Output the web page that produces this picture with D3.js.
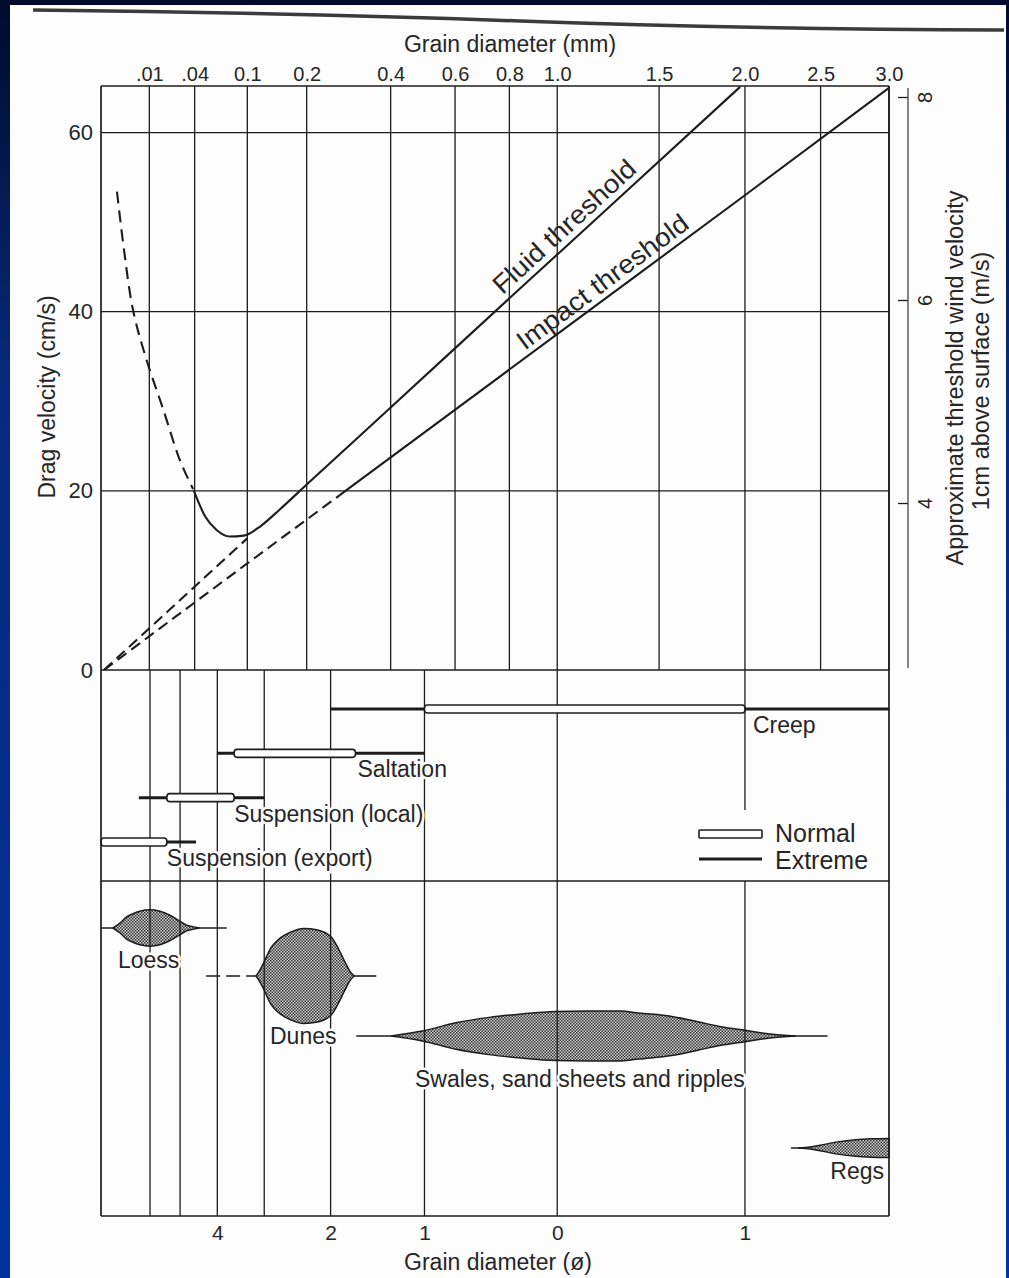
<!DOCTYPE html>
<html><head><meta charset="utf-8">
<script src="https://cdn.jsdelivr.net/npm/d3@7"></script>
<style>
body{margin:0;background:#fff;}
svg{display:block;}
text{font-family:"Liberation Sans",Arial,sans-serif;fill:#262626;}
</style>
</head><body>
<svg id="c" width="1009" height="1278"></svg>
<script>
// ---------------- DATA ----------------
const mmTicks = [0.01, 0.04, 0.1, 0.2, 0.4, 0.6, 0.8, 1.0, 1.5, 2.0, 2.5, 3.0];
const mmTickLabels = [".01", ".04", "0.1", "0.2", "0.4", "0.6", "0.8", "1.0", "1.5", "2.0", "2.5", "3.0"];
const dragTicks = [0, 20, 40, 60];
const windTicks = [4, 6, 8];
const phiTicks = [4, 2, 1, 0, -1];
const phiTickLabels = ["4", "2", "1", "0", "1"];
const phiGrid = [6.6, 5.15, 4, 3, 2, 1, 0, -1];

// [grain diameter mm, drag velocity cm/s]
const fluidSteep = [[0.00082, 53.4], [0.00195, 46.9], [0.0041, 40.2], [0.0086, 34.8], [0.0169, 29.2], [0.0281, 23.4], [0.0386, 20.2]];
const fluidCurve = [[0.039, 20.1], [0.05, 17.1], [0.062, 15.6], [0.077, 14.9], [0.095, 15.0], [0.12, 16.1],
                    [0.15, 17.9], [0.2, 20.7], [0.4, 29.3], [0.8, 41.5], [1.2, 50.8], [1.97, 65.1]];
const fluidExtension = [[0, 0], [0.05, 10.4], [0.1, 14.7]];
const impactExtension = [[0, 0], [0.1, 11.9], [0.27, 19.5]];
const impactLine = [[0.27, 19.5], [1.0, 37.5], [2.0, 53], [3.0, 65]];

// transport modes: ranges in phi (null = beyond panel edge)
const modes = ["Creep", "Saltation", "Suspension (local)", "Suspension (export)"];
const normalRange = [[1, -1], [3.6, 1.7], [5.7, 3.6], [null, 5.7]];
const extremeRange = [[2, null], [4, 1], [7.4, 3], [null, 4.6]];
const legendItems = ["Normal", "Extreme"];

// landforms: [phi, relative abundance]
const landforms = ["Loess", "Dunes", "Swales, sand sheets and ripples", "Regs"];
const loessProfile = [[11.3, 0], [9.66, 0.1], [8.61, 0.23], [7.94, 0.29], [7.32, 0.34], [6.61, 0.37], [6.04, 0.34],
                      [5.57, 0.26], [5.16, 0.14], [4.91, 0.056], [4.71, 0.028], [4.5, 0]];
const dunesProfile = [[3.15, 0], [3.09, 0.1], [3.01, 0.27], [2.88, 0.58], [2.77, 0.73], [2.55, 0.9], [2.36, 0.97],
                      [2.17, 0.94], [1.99, 0.79], [1.91, 0.58], [1.83, 0.31], [1.75, 0.06], [1.71, 0]];
const swalesProfile = [[1.32, 0], [1.02, 0.1], [0.73, 0.27], [0.47, 0.38], [0.235, 0.45], [0.01, 0.5], [-0.19, 0.51],
                       [-0.38, 0.51], [-0.475, 0.47], [-0.65, 0.40], [-0.78, 0.29], [-0.89, 0.19], [-1.0, 0.115],
                       [-1.11, 0.04], [-1.22, 0]];
const regsProfile = [[-1.23, 0], [-1.28, 0.02], [-1.32, 0.056], [-1.39, 0.125], [-1.46, 0.17], [-1.52, 0.188], [-1.585, 0.195]];
const landformProfiles = [loessProfile, dunesProfile, swalesProfile, regsProfile];
const landformTails = [[null, 3.77], [1.71, 1.47], [1.69, -1.35], [-1.2, null]];
const landformDashed = [null, [4.3, 3.15], null, null];

// ---------------- LAYOUT ----------------
const W = 1009, H = 1278;
const L = 101, R = 889, T = 86, Y0 = 670, MB = 881, B = 1216;
const INK = "#1c1c1c";
const svg = d3.select("#c");
const x = d3.scaleSqrt().domain([0, 3]).range([104, 889]);
const y = d3.scaleLinear().domain([0, 65.2]).range([Y0, T]);
const yWind = d3.scaleLinear().domain([4, 8]).range([503, 97]);
const thick = d3.scaleLinear().domain([0, 1]).range([0, 49]);
const phiX = (p, edge) => p == null ? edge : x(Math.pow(2, -p));
const rowY = d3.scalePoint().domain(modes).range([709, 842]);
const landY = [928, 976, 1036, 1148];
const landLabelPos = [[118, 968, "start"], [270, 1044, "start"], [415, 1087, "start"], [884, 1179, "end"]];
const modeLabelDx = [8, 2, 0, 0];

// ---------------- BACKGROUND ----------------
const defs = svg.append("defs");
const lg = defs.append("linearGradient").attr("id", "edge").attr("x1", 0).attr("y1", 0).attr("x2", 0).attr("y2", 1);
lg.append("stop").attr("offset", "0%").attr("stop-color", "#000b2c");
lg.append("stop").attr("offset", "30%").attr("stop-color", "#082a7c");
lg.append("stop").attr("offset", "100%").attr("stop-color", "#0033a0");
svg.append("rect").attr("width", W).attr("height", H).attr("fill", "url(#edge)");
svg.append("rect").attr("x", 10).attr("y", 5).attr("width", 996).attr("height", H - 5).attr("fill", "#fdfdfd");
svg.append("path").attr("d", "M33,10 Q300,13 520,21 T1004,30")
  .attr("stroke", "#3a3a3a").attr("stroke-width", 3.5).attr("fill", "none");

const pat = defs.append("pattern").attr("id", "hatch").attr("width", 3).attr("height", 3)
  .attr("patternUnits", "userSpaceOnUse");
pat.append("rect").attr("width", 3).attr("height", 3).attr("fill", "#cfcfcf");
pat.append("rect").attr("width", 1.5).attr("height", 1.5).attr("fill", "#353535");
pat.append("rect").attr("x", 1.5).attr("y", 1.5).attr("width", 1.5).attr("height", 1.5).attr("fill", "#353535");

// ---------------- UPPER PANEL ----------------
const grid = svg.append("g").attr("stroke", INK).attr("stroke-width", 1.3).attr("fill", "none");
mmTicks.forEach(d => grid.append("line").attr("x1", x(d)).attr("x2", x(d)).attr("y1", T).attr("y2", Y0));
dragTicks.filter(v => v > 0).forEach(v =>
  grid.append("line").attr("x1", L).attr("x2", R).attr("y1", y(v)).attr("y2", y(v)));

// top axis
const ta = svg.append("g").attr("transform", `translate(0,${T})`)
  .call(d3.axisTop(x).tickValues(mmTicks).tickFormat((d, i) => mmTickLabels[i]).tickSize(0).tickPadding(5));
ta.select(".domain").remove();
ta.selectAll("text").attr("font-size", 20).attr("fill", "#262626").attr("font-family", "Liberation Sans, Arial, sans-serif");
svg.append("text").attr("x", 510).attr("y", 52).attr("text-anchor", "middle").attr("font-size", 23)
  .text("Grain diameter (mm)");

// left axis
const la = svg.append("g").attr("transform", `translate(${L},0)`)
  .call(d3.axisLeft(y).tickValues(dragTicks).tickSize(0).tickPadding(8));
la.select(".domain").remove();
la.selectAll("text").attr("font-size", 22).attr("fill", "#262626").attr("font-family", "Liberation Sans, Arial, sans-serif");
svg.append("text").attr("transform", "translate(47,397) rotate(-90)").attr("text-anchor", "middle")
  .attr("dy", "0.35em").attr("font-size", 23).text("Drag velocity (cm/s)");

// right axis
const ra = svg.append("g").attr("transform", "translate(908,0)")
  .call(d3.axisRight(yWind).tickValues(windTicks).tickFormat(d3.format("d")).tickSize(-10).tickPadding(0));
ra.select(".domain").remove();
ra.selectAll(".tick line").attr("stroke", INK).attr("stroke-width", 1.3);
ra.selectAll("text").attr("x", 0).attr("dy", "0.35em").attr("text-anchor", "middle")
  .attr("transform", "translate(17,0) rotate(-90)").attr("font-size", 20).attr("fill", "#262626")
  .attr("font-family", "Liberation Sans, Arial, sans-serif");
svg.append("line").attr("x1", 908).attr("x2", 908).attr("y1", 88).attr("y2", 668)
  .attr("stroke", "#444").attr("stroke-width", 1.3);
svg.append("text").attr("transform", "translate(955,378) rotate(-90)").attr("text-anchor", "middle")
  .attr("dy", "0.35em").attr("font-size", 23.5).text("Approximate threshold wind velocity");
svg.append("text").attr("transform", "translate(981,381) rotate(-90)").attr("text-anchor", "middle")
  .attr("dy", "0.35em").attr("font-size", 23.5).text("1cm above surface (m/s)");

// curves
const line = d3.line().x(d => x(d[0])).y(d => y(d[1])).curve(d3.curveMonotoneX);
const smooth = d3.line().x(d => x(d[0])).y(d => y(d[1])).curve(d3.curveCatmullRom.alpha(0.5));
const curves = svg.append("g").attr("fill", "none").attr("stroke", INK).attr("stroke-width", 2.1);
curves.append("path").attr("d", smooth(fluidSteep)).attr("stroke-dasharray", "12,7");
curves.append("path").attr("d", line(fluidExtension)).attr("stroke-dasharray", "11,6");
curves.append("path").attr("d", line(impactExtension)).attr("stroke-dasharray", "11,6");
curves.append("path").attr("d", line(fluidCurve));
curves.append("path").attr("d", line(impactLine));

function lineLabel(pts, atMm, text, len) {
  const a = pts[pts.length - 2], b = pts[pts.length - 1];
  const ang = Math.atan2(y(b[1]) - y(a[1]), x(b[0]) - x(a[0])) * 180 / Math.PI;
  const px = x(atMm);
  const t = (px - x(a[0])) / (x(b[0]) - x(a[0]));
  const py = y(a[1]) + t * (y(b[1]) - y(a[1]));
  svg.append("text").attr("transform", `translate(${px},${py}) rotate(${ang})`)
    .attr("text-anchor", "middle").attr("dy", -7).attr("font-size", 26)
    .attr("textLength", len).attr("lengthAdjust", "spacingAndGlyphs").text(text);
}
lineLabel(fluidCurve, 1.08, "Fluid threshold", 184);
lineLabel(impactLine, 1.256, "Impact threshold", 207);

// ---------------- MIDDLE PANEL ----------------
const mg = svg.append("g").attr("stroke", INK).attr("stroke-width", 1.3);
phiGrid.forEach(p => mg.append("line").attr("x1", phiX(p)).attr("x2", phiX(p))
  .attr("y1", Y0).attr("y2", p === -1 ? 810 : MB));

modes.forEach((m, i) => {
  const yy = rowY(m);
  const e = extremeRange[i], n = normalRange[i];
  svg.append("line").attr("x1", phiX(e[0], L)).attr("x2", phiX(e[1], R)).attr("y1", yy).attr("y2", yy)
    .attr("stroke", INK).attr("stroke-width", 3);
  svg.append("rect").attr("x", phiX(n[0], L)).attr("y", yy - 4)
    .attr("width", phiX(n[1], R) - phiX(n[0], L)).attr("height", 8).attr("rx", 3)
    .attr("fill", "#fff").attr("stroke", INK).attr("stroke-width", 1.6);
  svg.append("text").attr("x", phiX(n[1], R) + modeLabelDx[i]).attr("y", yy + 24).attr("font-size", 23)
    .attr("stroke", "#fdfdfd").attr("stroke-width", 5).attr("paint-order", "stroke").text(m);
});

// legend
svg.append("rect").attr("x", 699).attr("y", 830).attr("width", 63).attr("height", 8).attr("rx", 1)
  .attr("fill", "#fff").attr("stroke", INK).attr("stroke-width", 1.6);
svg.append("line").attr("x1", 699).attr("x2", 762).attr("y1", 859).attr("y2", 859)
  .attr("stroke", INK).attr("stroke-width", 3);
legendItems.forEach((t, i) => svg.append("text").attr("x", 775).attr("y", 842 + i * 27)
  .attr("font-size", 25).text(t));

// ---------------- LOWER PANEL ----------------
landforms.forEach((name, i) => {
  const cy = landY[i];
  const tail = landformTails[i];
  svg.append("line").attr("x1", phiX(tail[0], L)).attr("x2", phiX(tail[1], R)).attr("y1", cy).attr("y2", cy)
    .attr("stroke", INK).attr("stroke-width", 1.6);
  if (landformDashed[i]) {
    const dd = landformDashed[i];
    svg.append("line").attr("x1", phiX(dd[0])).attr("x2", phiX(dd[1])).attr("y1", cy).attr("y2", cy)
      .attr("stroke", INK).attr("stroke-width", 1.6).attr("stroke-dasharray", "14,6");
  }
  const area = d3.area().x(d => phiX(d[0])).y0(d => cy - thick(d[1])).y1(d => cy + thick(d[1]))
    .curve(d3.curveMonotoneX);
  svg.append("path").attr("d", area(landformProfiles[i])).attr("fill", "url(#hatch)")
    .attr("stroke", INK).attr("stroke-width", 1.5);
});

const lgr = svg.append("g").attr("stroke", INK).attr("stroke-width", 1.3);
phiGrid.forEach(p => lgr.append("line").attr("x1", phiX(p)).attr("x2", phiX(p)).attr("y1", MB).attr("y2", B));

landforms.forEach((name, i) => {
  const p = landLabelPos[i];
  svg.append("text").attr("x", p[0]).attr("y", p[1]).attr("text-anchor", p[2]).attr("font-size", 23)
    .attr("stroke", "#fdfdfd").attr("stroke-width", 5).attr("paint-order", "stroke").text(name);
});

// bottom axis
const ba = svg.append("g").attr("transform", `translate(0,${B})`)
  .call(d3.axisBottom(x).tickValues(phiTicks.map(p => Math.pow(2, -p)))
    .tickFormat((d, i) => phiTickLabels[i]).tickSize(0));
ba.select(".domain").remove();
ba.selectAll("text").attr("y", 24).attr("dy", 0).attr("font-size", 21).attr("fill", "#262626")
  .attr("font-family", "Liberation Sans, Arial, sans-serif");
svg.append("text").attr("x", 498).attr("y", 1270).attr("text-anchor", "middle").attr("font-size", 23)
  .text("Grain diameter (ø)");

// ---------------- FRAME ----------------
const fr = svg.append("g").attr("stroke", INK).attr("stroke-width", 1.7).attr("fill", "none");
[T, Y0, MB, B].forEach(v => fr.append("line").attr("x1", L).attr("x2", R).attr("y1", v).attr("y2", v));
fr.append("line").attr("x1", L).attr("x2", L).attr("y1", T).attr("y2", B);
fr.append("line").attr("x1", R).attr("x2", R).attr("y1", T).attr("y2", B);
</script>
</body></html>
